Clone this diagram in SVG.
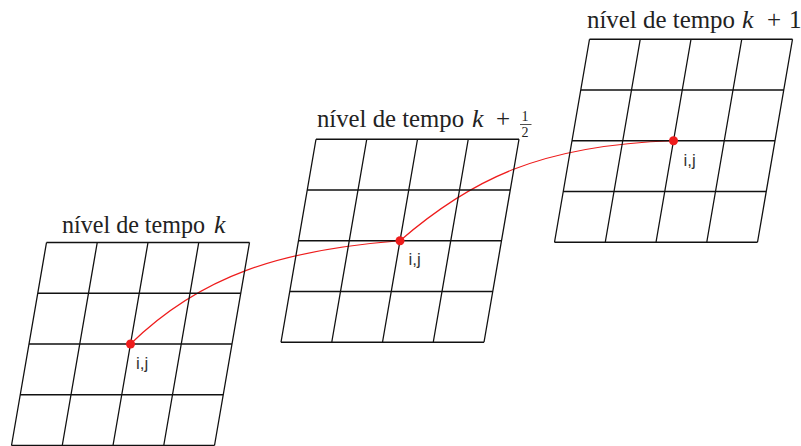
<svg xmlns="http://www.w3.org/2000/svg" xmlns:xlink="http://www.w3.org/1999/xlink" width="801" height="446" viewBox="0 0 801 446">
<style>
  .grid { fill: none; stroke: #111; stroke-width: 1.3; }
  .title { font-family: "Liberation Serif", "DejaVu Serif", "Times New Roman", serif; font-size: 25px; fill: #222; }
  .m { font-family: "Liberation Serif", "DejaVu Serif", "Times New Roman", serif; font-size: 26px; font-style: italic; fill: #222; }
  .op { font-family: "Liberation Serif", "DejaVu Serif", "Times New Roman", serif; font-size: 25px; fill: #222; }
  .frac { font-family: "Liberation Serif", "DejaVu Serif", "Times New Roman", serif; font-size: 14px; fill: #222; }
  .lbl { font-family: "Liberation Sans", Arial, sans-serif; font-size: 17px; fill: #333; }
  .path { fill: none; stroke: #ee1c1c; stroke-width: 1.2; }
  .pt { fill: #ee1c1c; }
</style>
<defs>
  <path id="gridShape" class="grid" d="M35,0 H238 M26.25,50.75 H229.25 M17.5,101.5 H220.5 M8.75,152.25 H211.75 M0,203 H203 M35,0 L0,203 M85.75,0 L50.75,203 M136.5,0 L101.5,203 M187.25,0 L152.25,203 M238,0 L203,203"/>
</defs>
<rect width="801" height="446" fill="#fff"/>
<g id="connectors">
  <path class="path" d="M130.5,344 C200,276 280,250 400,240.75 C470,180 540,145 673.5,140.75"/>
</g>
<g id="level-k">
  <use xlink:href="#gridShape" href="#gridShape" transform="translate(11.5,242.5)"/>
  <text class="title" x="62" y="233" textLength="143" lengthAdjust="spacingAndGlyphs">nível de tempo</text>
  <text class="m" x="214" y="233">k</text>
  <circle class="pt" cx="130.5" cy="344" r="4.5"/>
  <text class="lbl" x="136" y="369">i,j</text>
</g>
<g id="level-k-half">
  <use xlink:href="#gridShape" href="#gridShape" transform="translate(281,139.25)"/>
  <text class="title" x="317" y="127" textLength="147" lengthAdjust="spacingAndGlyphs">nível de tempo</text>
  <text class="m" x="472" y="127">k</text>
  <text class="op" x="496" y="127">+</text>
  <text class="frac" x="521.5" y="121">1</text>
  <line x1="520" y1="124.5" x2="531.5" y2="124.5" stroke="#222" stroke-width="0.8"/>
  <text class="frac" x="521.5" y="136.5">2</text>
  <circle class="pt" cx="400" cy="240.75" r="4.5"/>
  <text class="lbl" x="408.5" y="265">i,j</text>
</g>
<g id="level-k-plus-1">
  <use xlink:href="#gridShape" href="#gridShape" transform="translate(554.5,39.25)"/>
  <text class="title" x="587" y="28" textLength="148" lengthAdjust="spacingAndGlyphs">nível de tempo</text>
  <text class="m" x="742" y="28">k</text>
  <text class="op" x="767" y="28">+</text>
  <text class="op" x="789" y="28">1</text>
  <circle class="pt" cx="673.5" cy="140.75" r="4.5"/>
  <text class="lbl" x="683.5" y="166">i,j</text>
</g>
</svg>
